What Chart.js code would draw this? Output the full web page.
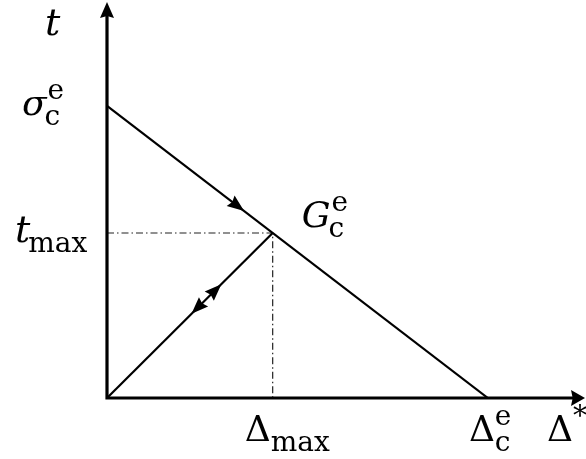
<!DOCTYPE html>
<html>
<head>
<meta charset="utf-8">
<script src="https://cdn.jsdelivr.net/npm/chart.js@4/dist/chart.umd.min.js"></script>
<style>
  body { margin: 0; background: #fff; }
  #contenedor { width: 586px; height: 459px; }
</style>
</head>
<body>
<div id="contenedor"><canvas id="grafico"></canvas></div>
<script>
// ley cohesiva bilineal (valores normalizados)
const sigmaC = 1.0;      // resistencia cohesiva
const deltaC = 1.0;      // separacion critica
const deltaMax = 0.435;  // separacion maxima alcanzada
const tMax = 0.565;      // traccion en deltaMax

const ablandX = [0, deltaC];
const ablandT = [sigmaC, 0];
const descargaX = [0, deltaMax];
const descargaT = [0, tMax];
const guiaX = [0, deltaMax, deltaMax];
const guiaT = [tMax, tMax, 0];

const ejeXMax = 1.255;
const ejeYMax = 1.356;

const fuente = '"DejaVu Serif", serif';

let puntos = (xs, ys) => xs.map((x, i) => ({ x: x, y: ys[i] }));

// punta de flecha rellena en (x,y) apuntando segun el angulo
function punta(ctx, x, y, ang, largo, ancho) {
    ctx.save();
    ctx.translate(x, y);
    ctx.rotate(ang);
    ctx.beginPath();
    ctx.moveTo(0, 0);
    ctx.lineTo(-largo, -ancho);
    ctx.lineTo(-largo * 0.88, 0);
    ctx.lineTo(-largo, ancho);
    ctx.closePath();
    ctx.fill();
    ctx.restore();
}

// simbolo con subindice y superindice
function simbolo(ctx, x, y, base, italica, sub, sup, tam, tamSub) {
    ctx.font = (italica ? 'italic ' : '') + tam + 'px ' + fuente;
    ctx.fillText(base, x, y);
    let w = ctx.measureText(base).width;
    ctx.font = tamSub + 'px ' + fuente;
    if (sub) ctx.fillText(sub, x + w + (italica ? -2 : 0), y + 10);
    if (sup) ctx.fillText(sup, x + w + (italica ? 1 : 0), y - 16);
}

const dibujoExtra = {
    id: 'dibujoExtra',
    afterDatasetsDraw(chart) {
        const ctx = chart.ctx;
        const sx = chart.scales.x, sy = chart.scales.y;
        const x0 = sx.getPixelForValue(0), y0 = sy.getPixelForValue(0);
        const xFin = sx.getPixelForValue(ejeXMax), yFin = sy.getPixelForValue(ejeYMax);

        ctx.save();
        ctx.fillStyle = '#000';
        ctx.strokeStyle = '#000';

        // ejes
        ctx.lineWidth = 3.2;
        ctx.lineCap = 'square';
        ctx.beginPath();
        ctx.moveTo(x0, yFin + 12);
        ctx.lineTo(x0, y0);
        ctx.lineTo(xFin - 12, y0);
        ctx.stroke();
        punta(ctx, x0, yFin, -Math.PI / 2, 16, 7);
        punta(ctx, xFin, y0, 0, 14, 8);

        // flechas sobre las rectas
        const ax = sx.getPixelForValue(0), ay = sy.getPixelForValue(sigmaC);
        const bx = sx.getPixelForValue(deltaC), by = sy.getPixelForValue(0);
        const angAb = Math.atan2(by - ay, bx - ax);
        punta(ctx, ax + (bx - ax) * 0.36, ay + (by - ay) * 0.36, angAb, 17, 6.5);

        const px = sx.getPixelForValue(deltaMax), py = sy.getPixelForValue(tMax);
        const angDe = Math.atan2(py - y0, px - x0);
        punta(ctx, x0 + (px - x0) * 0.69, y0 + (py - y0) * 0.69, angDe, 17, 6.5);
        punta(ctx, x0 + (px - x0) * 0.51, y0 + (py - y0) * 0.51, angDe + Math.PI, 17, 6.5);

        // rotulos
        ctx.textBaseline = 'alphabetic';
        ctx.textAlign = 'left';
        simbolo(ctx, x0 - 62, yFin + 33, 't', true, null, null, 38, 28);
        simbolo(ctx, x0 - 85, ay + 9, 'σ', true, 'c', 'e', 36, 28);
        simbolo(ctx, x0 - 92, py + 9, 't', true, 'max', null, 38, 28);
        simbolo(ctx, px + 29, py - 6, 'G', true, 'c', 'e', 36, 28);
        simbolo(ctx, px - 28, y0 + 43, 'Δ', false, 'max', null, 36, 28);
        simbolo(ctx, bx - 19, y0 + 43, 'Δ', false, 'c', 'e', 36, 28);
        simbolo(ctx, xFin - 38, y0 + 43, 'Δ', false, null, '*', 36, 28);
        ctx.restore();
    }
};

new Chart(document.getElementById('grafico'), {
    type: 'scatter',
    data: {
        datasets: [
            {
                data: puntos(ablandX, ablandT),
                showLine: true,
                borderColor: '#000',
                borderWidth: 2.2,
                pointRadius: 0
            },
            {
                data: puntos(descargaX, descargaT),
                showLine: true,
                borderColor: '#000',
                borderWidth: 2.2,
                pointRadius: 0
            },
            {
                data: puntos(guiaX, guiaT),
                showLine: true,
                borderColor: '#222',
                borderWidth: 1.2,
                borderDash: [7, 3, 1.5, 3],
                pointRadius: 0
            }
        ]
    },
    options: {
        responsive: true,
        maintainAspectRatio: false,
        animation: false,
        layout: { padding: { left: 107, right: 1, top: 2, bottom: 61 } },
        scales: {
            x: { type: 'linear', min: 0, max: ejeXMax, display: false },
            y: { type: 'linear', min: 0, max: ejeYMax, display: false }
        },
        plugins: {
            legend: { display: false },
            tooltip: { enabled: false }
        }
    },
    plugins: [dibujoExtra]
});
</script>
</body>
</html>
